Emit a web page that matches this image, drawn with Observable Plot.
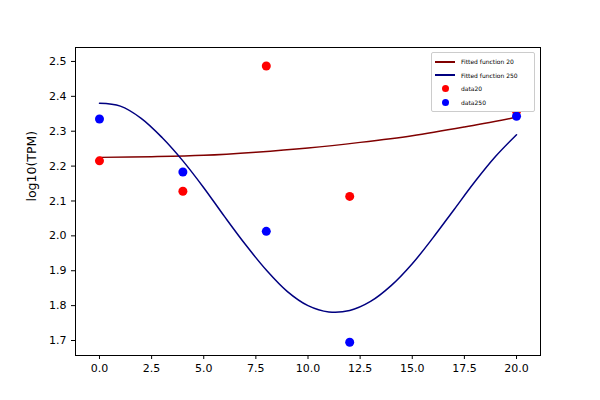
<!DOCTYPE html>
<html><head><meta charset="utf-8">
<script src="https://cdn.jsdelivr.net/npm/d3@7"></script>
<script src="https://cdn.jsdelivr.net/npm/@observablehq/plot@0.6"></script>
<style>body{margin:0;font-family:"DejaVu Sans",sans-serif;background:#fff}
#wrap{position:relative;width:600px;height:400px}
#leg{position:absolute;left:431px;top:52px;width:104px;border:1px solid #ccc;border-radius:2px;background:#fff;font-size:6px;padding:2px 3px;box-sizing:border-box}
#leg div{display:flex;align-items:center;height:13.5px}
.ln{width:20px;height:2px;margin-right:6px}
.dt{width:7px;height:7px;border-radius:50%;margin:0 12px 0 7px}
svg text{fill:#000}</style></head>
<body><div id="wrap"><div id="chart"></div>
<div id="leg">
<div><span class="ln" style="background:#800000"></span>Fitted function 20</div>
<div><span class="ln" style="background:#000080"></span>Fitted function 250</div>
<div><span class="dt" style="background:red"></span>data20</div>
<div><span class="dt" style="background:blue"></span>data250</div>
</div></div>
<script>
const dataX=[0,4,8,12,20];
const data20=[2.215,2.128,2.487,2.113,2.357];
const data250=[2.335,2.183,2.013,1.695,2.343];
const fitX20=[0,2.5,5,7.5,10,12.5,15,17.5,20];
const fit20=[2.225,2.227,2.231,2.240,2.252,2.268,2.287,2.312,2.340];
const fitX250=[0,1,2,3,4,5,6,7,8,9,10,11,12,13,14,15,16,17,18,19,20];
const fit250=[2.38,2.372,2.337,2.282,2.215,2.138,2.055,1.975,1.902,1.841,1.800,1.782,1.786,1.812,1.858,1.920,1.995,2.075,2.155,2.228,2.29];
const d20=dataX.map((x,i)=>({x,y:data20[i]}));
const d250=dataX.map((x,i)=>({x,y:data250[i]}));
const f20=fitX20.map((x,i)=>({x,y:fit20[i]}));
const f250=fitX250.map((x,i)=>({x,y:fit250[i]}));
const p=Plot.plot({width:600,height:400,marginLeft:75,marginRight:60,marginTop:47,marginBottom:45,
style:{fontFamily:"DejaVu Sans",fontSize:"10px",color:"#000"},
x:{domain:[-1.15,21.15]},
y:{domain:[1.657,2.54]},
marks:[
Plot.frame({stroke:"#000"}),
Plot.axisX({ticks:d3.range(0,20.1,2.5),tickFormat:d3.format(".1f"),fontSize:11,label:null,tickSize:4}),
Plot.axisY({ticks:d3.range(1.7,2.51,0.1),tickFormat:d3.format(".1f"),fontSize:11,label:null,tickSize:4}),
Plot.text(["log10(TPM)"],{frameAnchor:"left",dx:-44,rotate:-90,fontSize:12.5}),
Plot.line(f20,{x:"x",y:"y",stroke:"#800000",strokeWidth:1.5,curve:"catmull-rom"}),
Plot.line(f250,{x:"x",y:"y",stroke:"#000080",strokeWidth:1.5,curve:"catmull-rom"}),
Plot.dot(d20,{x:"x",y:"y",fill:"red",r:4.5}),
Plot.dot(d250,{x:"x",y:"y",fill:"blue",r:4.5})
]});
document.getElementById("chart").appendChild(p);
</script></body></html>
